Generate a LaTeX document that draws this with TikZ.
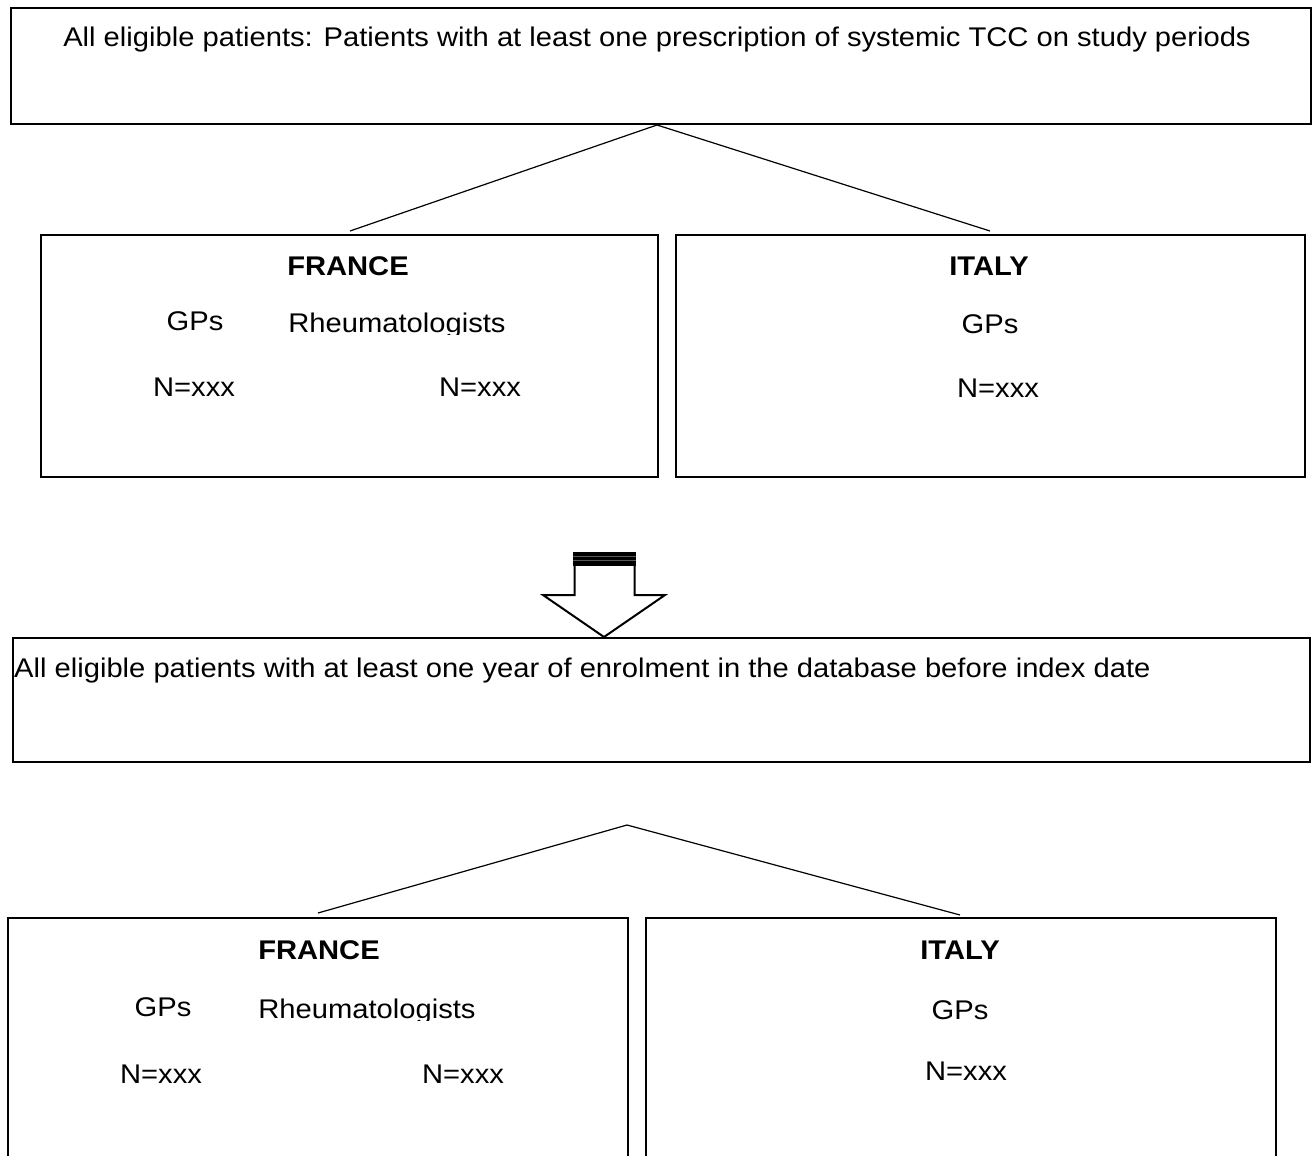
\documentclass[tikz,border=0pt]{standalone}
\usepackage{graphicx}
\usepackage{fontspec}
\setmainfont{Liberation Sans}
\newcommand{\wtxt}[1]{\scalebox{1.08}[1]{#1}}
\begin{document}
\begin{tikzpicture}[x=1pt,y=-1pt,
  box/.style={draw,line width=2pt,inner sep=0pt},
  txt/.style={font=\fontsize{27}{32}\selectfont,inner sep=0pt,anchor=base},
  head/.style={txt,font=\fontsize{27}{32}\selectfont\bfseries},
  link/.style={line width=1.2pt}]
\useasboundingbox (0,0) rectangle (1315,1156);
\clip (0,0) rectangle (1315,1156);

% ---- first level ----
\node[box,minimum width=1300pt,minimum height=116pt] (all) at (661,66) {};
\node[txt] (alltxt) at (657,47) {\wtxt{All eligible patients: Patients with at least one prescription of systemic TCC on study periods}};

\node[box,minimum width=617pt,minimum height=242pt] (fr1) at (349.5,356) {};
\node[box,minimum width=629pt,minimum height=242pt] (it1) at (990.5,356) {};

\coordinate (fr1top) at (350,231);
\coordinate (it1top) at (990,231);
\draw[link] (all.south -| 657,0) -- (fr1top);
\draw[link] (all.south -| 657,0) -- (it1top);

\node[head] (fr1h) at (348,275) {\wtxt{FRANCE}};
\node[txt] (fr1gp) at (195,330) {\wtxt{GPs}};
\begin{scope}
  \clip (250,290) rectangle (560,334);
  \node[txt] (fr1rh) at (397,332) {\wtxt{Rheumatologists}};
\end{scope}
\node[txt] (fr1n1) at (194,396) {\wtxt{N=xxx}};
\node[txt] (fr1n2) at (480,396) {\wtxt{N=xxx}};

\node[head] (it1h) at (989,275) {\wtxt{ITALY}};
\node[txt] (it1gp) at (990,333) {\wtxt{GPs}};
\node[txt] (it1n) at (998,397) {\wtxt{N=xxx}};

% ---- block arrow ----
\fill[black] (573,552) rectangle (636,566);
\draw[black!65,line width=0.5pt] (573,556.7) -- (636,556.7) (573,560.7) -- (636,560.7);
\draw[line width=2pt,line join=miter,fill=white]
  (574.5,566) -- (574.5,595) -- (543,595) -- (604,637) -- (665,595) -- (634.5,595) -- (634.5,566);

% ---- second level ----
\node[box,minimum width=1297pt,minimum height=124pt] (enr) at (661.5,700) {};
\node[txt,anchor=base west] (enrtxt) at (14,677) {\wtxt{All eligible patients with at least one year of enrolment in the database before index date}};

\node[box,minimum width=620pt,minimum height=300pt] (fr2) at (318,1068) {};
\node[box,minimum width=630pt,minimum height=300pt] (it2) at (961,1068) {};

\coordinate (apex2) at (627,825);
\coordinate (fr2top) at (318,913);
\coordinate (it2top) at (960,915);
\draw[link] (apex2) -- (fr2top);
\draw[link] (apex2) -- (it2top);

\node[head] (fr2h) at (319,959) {\wtxt{FRANCE}};
\node[txt] (fr2gp) at (163,1016) {\wtxt{GPs}};
\begin{scope}
  \clip (220,975) rectangle (520,1020);
  \node[txt] (fr2rh) at (367,1018) {\wtxt{Rheumatologists}};
\end{scope}
\node[txt] (fr2n1) at (161,1083) {\wtxt{N=xxx}};
\node[txt] (fr2n2) at (463,1083) {\wtxt{N=xxx}};

\node[head] (it2h) at (960,959) {\wtxt{ITALY}};
\node[txt] (it2gp) at (960,1019) {\wtxt{GPs}};
\node[txt] (it2n) at (966,1080) {\wtxt{N=xxx}};
\end{tikzpicture}
\end{document}
